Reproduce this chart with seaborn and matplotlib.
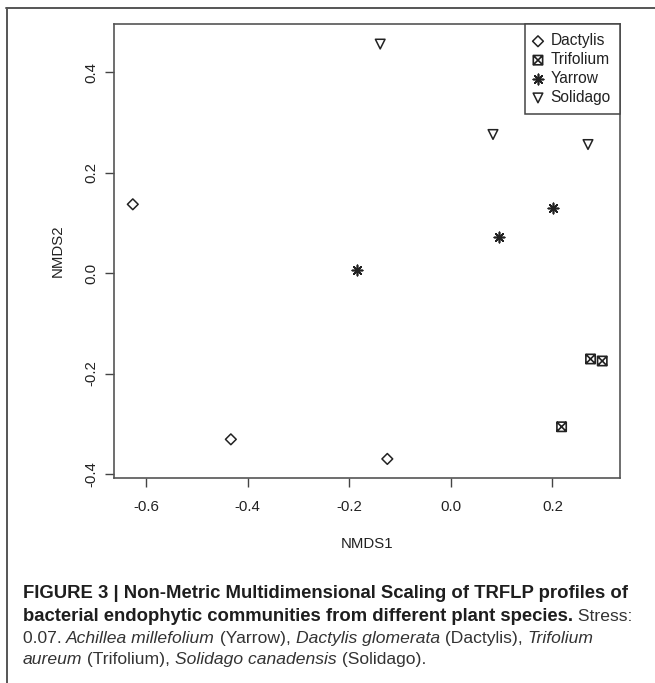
import numpy as np
import pandas as pd
import matplotlib
matplotlib.use('Agg')
import matplotlib.pyplot as plt
from matplotlib.path import Path
from matplotlib.lines import Line2D
import seaborn as sns

# NMDS scores
species = ['Dactylis', 'Trifolium', 'Yarrow', 'Solidago']
dactylis_x = [-0.626, -0.433, -0.125]
dactylis_y = [0.137, -0.331, -0.370]
trifolium_x = [0.275, 0.298, 0.218]
trifolium_y = [-0.171, -0.175, -0.306]
yarrow_x = [0.201, 0.094, -0.185]
yarrow_y = [0.129, 0.072, 0.007]
solidago_x = [-0.139, 0.083, 0.270]
solidago_y = [0.456, 0.276, 0.256]

x_ticks = [-0.6, -0.4, -0.2, 0.0, 0.2]
y_ticks = [-0.4, -0.2, 0.0, 0.2, 0.4]

df = pd.concat([
    pd.DataFrame({'species': 'Dactylis', 'NMDS1': dactylis_x, 'NMDS2': dactylis_y}),
    pd.DataFrame({'species': 'Trifolium', 'NMDS1': trifolium_x, 'NMDS2': trifolium_y}),
    pd.DataFrame({'species': 'Yarrow', 'NMDS1': yarrow_x, 'NMDS2': yarrow_y}),
    pd.DataFrame({'species': 'Solidago', 'NMDS1': solidago_x, 'NMDS2': solidago_y}),
], ignore_index=True)

sns.set_style('white')
plt.rcParams['font.family'] = ['Liberation Sans', 'DejaVu Sans']
plt.rcParams['axes.unicode_minus'] = False

W, H = 655, 683
fig = plt.figure(figsize=(W / 100, H / 100), dpi=100)
ax = fig.add_axes([114 / W, 1 - 477.5 / H, 506 / W, 453.5 / H])

# R's pch 7: square with an x inside
sq_x = Path([(-1, -1), (1, -1), (1, 1), (-1, 1), (-1, -1),
             (-1, -1), (1, 1), (-1, 1), (1, -1)],
            [Path.MOVETO, Path.LINETO, Path.LINETO, Path.LINETO, Path.CLOSEPOLY,
             Path.MOVETO, Path.LINETO, Path.MOVETO, Path.LINETO])

ink = '#222222'
styles = {
    'Dactylis': dict(marker='D', s=30, facecolor='none', edgecolor=ink, linewidth=1.1),
    'Trifolium': dict(marker=sq_x, s=45, facecolor='none', edgecolor=ink, linewidth=1.2),
    'Yarrow': dict(marker=(8, 2, 0), s=55, color=ink, edgecolor=ink, linewidth=1.2),
    'Solidago': dict(marker='v', s=48, facecolor='none', edgecolor=ink, linewidth=1.1),
}

for sp in species:
    sns.scatterplot(data=df[df['species'] == sp], x='NMDS1', y='NMDS2',
                    label=sp, ax=ax, **styles[sp])

ax.set_xlim(-0.663, 0.333)
ax.set_ylim(-0.407, 0.496)
ax.set_xticks(x_ticks)
ax.set_yticks(y_ticks)
ax.set_xticklabels([f'{v:.1f}' for v in x_ticks])
ax.set_yticklabels([f'{v:.1f}' for v in y_ticks], rotation=90, va='center')
ax.tick_params(axis='both', direction='out', length=6.5, width=1.0, color='#444',
               labelsize=10.8, labelcolor='#222', bottom=True, left=True)
ax.tick_params(axis='x', pad=10)
ax.tick_params(axis='y', pad=5)
for sp_ in ax.spines.values():
    sp_.set_color('#555')
    sp_.set_linewidth(1.2)

ax.set_xlabel('NMDS1', fontsize=10.8, color='#222', labelpad=16)
ax.set_ylabel('NMDS2', fontsize=10.8, color='#222', labelpad=14)

leg = ax.legend(loc='upper right', bbox_to_anchor=(1, 1), borderaxespad=0,
                fancybox=False, framealpha=1, edgecolor='#444', fontsize=11.2,
                borderpad=0.6, handlelength=0.5, handletextpad=0.55,
                labelspacing=0.25, markerscale=1)
leg.get_frame().set_linewidth(1.1)
for t in leg.get_texts():
    t.set_color('#222')

# outer frame lines of the figure panel
fig.add_artist(Line2D([6 / W, 1], [1 - 8 / H, 1 - 8 / H], color='#555', lw=1.4))
fig.add_artist(Line2D([7 / W, 7 / W], [0, 1 - 8 / H], color='#555', lw=1.4))

# caption with mixed bold / regular / italic runs
renderer = fig.canvas.get_renderer()
fonts = {
    'b': dict(fontweight='bold', color='#1e1e1e', fontsize=13.35),
    'r': dict(color='#333333', fontsize=12.6),
    'i': dict(fontstyle='italic', color='#333333', fontsize=12.6),
}


def run_width(txt, kind):
    a = fig.text(0, 0, txt + '|', **fonts[kind])
    b = fig.text(0, 0, '|', **fonts[kind])
    w = a.get_window_extent(renderer).width - b.get_window_extent(renderer).width
    a.remove()
    b.remove()
    return w


caption = [
    (598.3, [('FIGURE 3 | Non-Metric Multidimensional Scaling of TRFLP profiles of', 'b')]),
    (620.7, [('bacterial endophytic communities from different plant species.', 'b'),
             (' Stress:', 'r')]),
    (642.7, [('0.07. ', 'r'), ('Achillea millefolium', 'i'), (' (Yarrow), ', 'r'),
             ('Dactylis glomerata', 'i'), (' (Dactylis), ', 'r'), ('Trifolium', 'i')]),
    (664.3, [('aureum', 'i'), (' (Trifolium), ', 'r'), ('Solidago canadensis', 'i'),
             (' (Solidago).', 'r')]),
]
for y_px, pieces in caption:
    x_px = 22.7
    for txt, kind in pieces:
        fig.text(x_px / W, 1 - y_px / H, txt, ha='left', va='baseline', **fonts[kind])
        x_px += run_width(txt, kind)

fig.savefig('out.png', dpi=100)
